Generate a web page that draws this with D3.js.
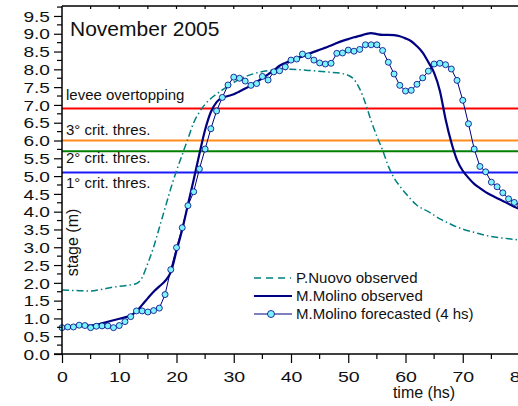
<!DOCTYPE html>
<html>
<head>
<meta charset="utf-8">
<script src="https://cdn.jsdelivr.net/npm/d3@7/dist/d3.min.js"></script>
<style>
  html, body { margin: 0; padding: 0; background: #fff; }
  svg { display: block; font-family: Arial, "Liberation Sans", sans-serif; }
</style>
</head>
<body>
<svg id="chart" width="518" height="406"></svg>
<script>
// Hourly forecast of stage at M.Molino (4 hour lead), hours 0..80
const forecastHours = d3.range(0, 81);
const forecastStage = [
  0.74, 0.76, 0.76, 0.81, 0.80, 0.74, 0.78, 0.79, 0.79, 0.74,
  0.80, 0.91, 1.05, 1.21, 1.21, 1.18, 1.22, 1.29, 1.67, 2.37,
  2.99, 3.55, 4.17, 4.56, 5.20, 5.76, 6.33, 6.83, 7.21, 7.56,
  7.78, 7.75, 7.67, 7.55, 7.60, 7.80, 7.70, 7.93, 7.96, 8.07,
  8.26, 8.29, 8.43, 8.38, 8.26, 8.18, 8.15, 8.17, 8.45, 8.46,
  8.54, 8.51, 8.56, 8.69, 8.69, 8.69, 8.53, 8.20, 7.87, 7.55,
  7.39, 7.41, 7.58, 7.76, 7.95, 8.15, 8.17, 8.13, 8.01, 7.69,
  7.13, 6.47, 5.76, 5.27, 5.12, 4.83, 4.70, 4.53, 4.36, 4.26,
  4.18
];

// Observed stage at M.Molino
const molinoHours = [0, 3, 5, 7, 9, 11, 12, 13, 14, 15, 16, 17, 18, 19, 20, 21, 22, 23, 24, 25,
  26, 27, 28, 29, 30, 31, 32, 33, 34, 35, 36, 37, 38, 39, 40, 41, 42, 43, 44, 45,
  46, 47, 48, 49, 50, 51, 52, 53, 54, 55, 56, 57, 58, 59, 60, 61, 62, 63, 64, 65,
  66, 67, 68, 69, 70, 71, 72, 73, 74, 75, 76, 77, 78, 79, 80];
const molinoStage = [0.74, 0.80, 0.80, 0.86, 0.95, 1.03, 1.08, 1.20, 1.38, 1.57, 1.75, 1.90, 2.05, 2.30, 2.90, 3.50, 4.20, 4.90, 5.62, 6.30,
  6.80, 7.08, 7.20, 7.25, 7.30, 7.38, 7.46, 7.55, 7.65, 7.75, 7.86, 7.97, 8.10, 8.18, 8.25, 8.30, 8.36, 8.43, 8.49, 8.55,
  8.61, 8.67, 8.74, 8.80, 8.85, 8.90, 8.94, 8.99, 9.02, 8.99, 8.97, 8.97, 8.96, 8.93, 8.87, 8.79, 8.65, 8.47, 8.20, 7.90,
  7.40, 6.60, 5.95, 5.45, 5.15, 4.95, 4.78, 4.66, 4.55, 4.46, 4.38, 4.30, 4.22, 4.14, 4.07];

// Observed stage at P.Nuovo
const nuovoHours = [0, 3, 5, 7, 9, 11, 13, 14, 15, 16, 17, 18, 19, 20, 21, 22, 23, 24, 25, 26,
  28, 31, 34, 37, 40, 43, 46, 49, 50, 51, 52, 53, 54, 55, 56, 57, 58, 59, 60, 62,
  64, 66, 68, 70, 72, 75, 78, 80];
const nuovoStage = [1.80, 1.78, 1.77, 1.82, 1.88, 1.92, 1.98, 2.15, 2.55, 3.00, 3.55, 4.10, 4.65, 5.15, 5.60, 6.05, 6.50, 6.80, 7.02, 7.18,
  7.42, 7.72, 7.90, 7.98, 8.00, 7.97, 7.93, 7.88, 7.83, 7.72, 7.45, 7.05, 6.55, 6.12, 5.73, 5.28, 4.95, 4.72, 4.52, 4.18,
  4.00, 3.80, 3.64, 3.51, 3.42, 3.30, 3.24, 3.20];

// Critical thresholds (m)
const thresholdLabels = ["levee overtopping", "3° crit. thres.", "2° crit. thres.", "1° crit. thres."];
const thresholdValues = [6.9, 6.0, 5.7, 5.1];
const thresholdColors = ["#ff0000", "#ff8c1a", "#008000", "#1a1aff"];

const xTicks = d3.range(0, 90, 10);
const yTicks = d3.range(0, 9.51, 0.5);

const svg = d3.select("#chart");
const x = d3.scaleLinear().domain([0, 80]).range([62, 520]);
const y = d3.scaleLinear().domain([0, 9.78]).range([354, 6]);

const navy = "#000080";
const teal = "#008080";
const ink = "#111";

// threshold lines
thresholdValues.forEach((v, i) => {
  svg.append("line")
    .attr("x1", x(0)).attr("x2", x(80))
    .attr("y1", y(v)).attr("y2", y(v))
    .attr("stroke", thresholdColors[i]).attr("stroke-width", 2);
});
// threshold labels, set just above or below each line
const labelOffsets = [-8, -6, 12, 15.5];
thresholdValues.forEach((v, i) => {
  svg.append("text")
    .attr("x", 66).attr("y", y(v) + labelOffsets[i])
    .attr("font-size", 15).attr("fill", ink)
    .text(thresholdLabels[i]);
});

// P.Nuovo observed (dash-dot)
const nuovoLine = d3.line().curve(d3.curveMonotoneX)
  .x((d, i) => x(nuovoHours[i])).y(d => y(d));
svg.append("path").datum(nuovoStage)
  .attr("d", nuovoLine)
  .attr("fill", "none").attr("stroke", teal).attr("stroke-width", 1.5)
  .attr("stroke-dasharray", "7,3,1.5,3");

// M.Molino observed
const molinoLine = d3.line().curve(d3.curveMonotoneX)
  .x((d, i) => x(molinoHours[i])).y(d => y(d));
svg.append("path").datum(molinoStage)
  .attr("d", molinoLine)
  .attr("fill", "none").attr("stroke", navy).attr("stroke-width", 2.2);

// M.Molino forecasted
const fcLine = d3.line().x((d, i) => x(forecastHours[i])).y(d => y(d));
svg.append("path").datum(forecastStage)
  .attr("d", fcLine)
  .attr("fill", "none").attr("stroke", navy).attr("stroke-width", 1);
svg.append("g").selectAll("circle").data(forecastStage).join("circle")
  .attr("cx", (d, i) => x(forecastHours[i])).attr("cy", d => y(d))
  .attr("r", 3).attr("fill", "#7df3ff").attr("stroke", navy).attr("stroke-width", 0.8);

// y axis (labels use a slightly widened face)
const yAxis = d3.axisLeft(y).tickValues(yTicks).tickFormat(d3.format(".1f")).tickSize(8);
const gy = svg.append("g").attr("transform", `translate(${x(0)},0)`).call(yAxis);
gy.select(".domain").attr("d", `M0,${y(0)}V${y.range()[1]}`).attr("stroke", "#000").attr("stroke-width", 1.5);
gy.selectAll(".tick line").attr("stroke-width", 1.2);
gy.selectAll("text")
  .attr("x", 0).attr("dy", "0.36em")
  .attr("transform", "translate(-12,0) scale(1.32,1)")
  .attr("font-size", 14.5).attr("fill", ink).attr("font-family", "Arial, 'Liberation Sans', sans-serif");
// minor y ticks
svg.append("g").selectAll("line").data(d3.range(0.25, 9.76, 0.5)).join("line")
  .attr("x1", x(0) - 5).attr("x2", x(0)).attr("y1", d => y(d)).attr("y2", d => y(d))
  .attr("stroke", "#000").attr("stroke-width", 1.2);

// x axis
const xAxis = d3.axisBottom(x).tickValues(xTicks).tickFormat(d3.format("d")).tickSize(9);
const gx = svg.append("g").attr("transform", `translate(0,${y(0)})`).call(xAxis);
gx.select(".domain").attr("d", `M${x(0) - 8},0H${x(80)}`).attr("stroke", "#000").attr("stroke-width", 1.5);
gx.selectAll(".tick line").attr("stroke-width", 1.2);
gx.selectAll("text")
  .attr("y", 0).attr("dy", 0)
  .attr("transform", "translate(0,27.5) scale(1.27,1)")
  .attr("font-size", 15.4).attr("fill", ink).attr("font-family", "Arial, 'Liberation Sans', sans-serif");
// minor x ticks
svg.append("g").selectAll("line").data(d3.range(5, 80, 10)).join("line")
  .attr("x1", d => x(d)).attr("x2", d => x(d)).attr("y1", y(0)).attr("y2", y(0) + 5)
  .attr("stroke", "#000").attr("stroke-width", 1.2);

// top frame with inward ticks
const topY = y.range()[1];
svg.append("line").attr("x1", x(0)).attr("x2", x(80)).attr("y1", topY).attr("y2", topY)
  .attr("stroke", "#000").attr("stroke-width", 1.5);
svg.append("g").selectAll("line").data(d3.range(5, 80, 5)).join("line")
  .attr("x1", d => x(d)).attr("x2", d => x(d)).attr("y1", topY).attr("y2", topY + 3)
  .attr("stroke", "#000").attr("stroke-width", 1.2);

// titles
svg.append("text").attr("x", 70).attr("y", 36).attr("font-size", 21).attr("fill", ink).text("November 2005");
svg.append("text").attr("transform", "translate(77.5,242.5) rotate(-90)")
  .attr("text-anchor", "middle").attr("font-size", 16).attr("fill", ink).text("stage (m)");
svg.append("text").attr("x", 424).attr("y", 398).attr("text-anchor", "middle")
  .attr("font-size", 16).attr("fill", ink).text("time (hs)");

// legend
const lg = svg.append("g");
lg.append("line").attr("x1", 254).attr("x2", 291).attr("y1", 278).attr("y2", 278)
  .attr("stroke", teal).attr("stroke-width", 1.5).attr("stroke-dasharray", "7,5");
lg.append("line").attr("x1", 254).attr("x2", 292).attr("y1", 296).attr("y2", 296)
  .attr("stroke", navy).attr("stroke-width", 2.2);
lg.append("line").attr("x1", 254).attr("x2", 292).attr("y1", 314).attr("y2", 314)
  .attr("stroke", navy).attr("stroke-width", 1);
lg.append("circle").attr("cx", 271).attr("cy", 314).attr("r", 3.5)
  .attr("fill", "#7df3ff").attr("stroke", navy).attr("stroke-width", 0.8);
const legendNames = ["P.Nuovo observed", "M.Molino observed", "M.Molino forecasted (4 hs)"];
legendNames.forEach((t, i) => {
  lg.append("text").attr("x", 296).attr("y", 283 + i * 18)
    .attr("font-size", 15).attr("fill", ink).text(t);
});
</script>
</body>
</html>
